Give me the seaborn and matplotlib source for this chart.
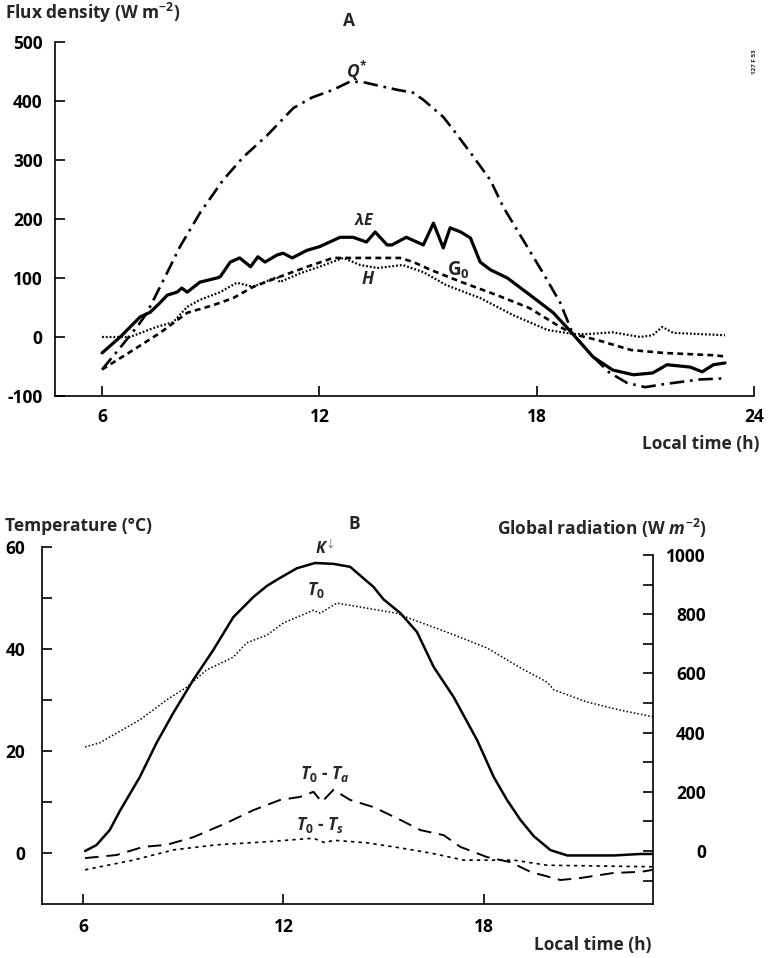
import matplotlib
matplotlib.use("Agg")
import matplotlib.pyplot as plt
import seaborn as sns

# ---------------- Panel A data (flux densities, W m-2) ----------------
t_Q = [6.0, 6.5, 7.0, 7.24, 7.7, 8.15, 8.7, 9.34, 9.9, 10.56, 11.28, 11.8, 12.38, 12.85,
       13.21, 13.7, 14.15, 14.59, 14.87, 15.42, 15.7, 16.2, 16.72, 17.08, 17.63, 18.18,
       18.65, 19.0, 19.5, 20.0, 20.5, 21.0, 21.5, 22.0, 22.5, 23.2]
Q_star = [-55, -18, 20, 41, 97, 153, 210, 266, 305, 342, 388, 406, 419, 433,
          432, 425, 419, 414, 402, 373, 351, 310, 266, 220, 164, 108,
          58, 5, -30, -60, -78, -85, -80, -76, -72, -70]

t_LE = [6.0, 6.5, 7.05, 7.33, 7.6, 7.8, 8.07, 8.2, 8.35, 8.7, 9.17, 9.26, 9.54, 9.8, 10.1,
        10.3, 10.5, 10.83, 11.0, 11.25, 11.66, 12.0, 12.57, 12.93, 13.3, 13.54, 13.87, 14.0,
        14.4, 14.87, 15.15, 15.42, 15.61, 15.9, 16.17, 16.44, 16.72, 17.19, 17.82, 18.46,
        19.0, 19.56, 20.1, 20.67, 21.2, 21.6, 22.24, 22.57, 22.88, 23.2]
LE = [-27, 0, 34, 42, 58, 71, 76, 83, 76, 93, 100, 102, 127, 134, 119,
      136, 127, 139, 142, 134, 147, 153, 169, 169, 161, 178, 156, 156,
      169, 156, 193, 151, 185, 178, 168, 127, 114, 100, 71, 41,
      5, -34, -56, -64, -61, -47, -51, -59, -47, -44]

t_G = [6.0, 6.86, 7.6, 8.35, 9.07, 9.62, 10.17, 10.9, 11.66, 12.38, 12.93, 13.5, 14.23,
       14.6, 15.06, 15.97, 16.9, 17.8, 18.65, 19.0, 19.67, 20.6, 21.5, 22.9, 23.2]
G0 = [-55, -22, 7, 41, 54, 66, 85, 102, 119, 134, 134, 134, 134,
      127, 114, 92, 71, 49, 17, 5, -5, -22, -27, -31, -33]

t_H = [6.0, 6.77, 7.5, 7.96, 8.35, 8.7, 9.26, 9.72, 10.17, 10.83, 10.9, 11.47, 12.0, 12.66,
       13.13, 13.6, 14.3, 14.87, 15.5, 16.44, 17.35, 18.3, 19.0, 19.4, 20.1, 20.86, 21.2,
       21.47, 21.77, 23.2]
H = [0, 0, 17, 25, 51, 63, 76, 92, 85, 102, 93, 108, 119, 134,
     122, 117, 122, 110, 88, 66, 37, 12, 5, 5, 8, 0, 3,
     17, 7, 3]

# ---------------- Panel B data ----------------
t_K = [6.06, 6.4, 6.8, 7.1, 7.7, 8.2, 8.7, 9.3, 9.9, 10.5, 11.1, 11.5, 11.8, 12.4, 12.95,
       13.5, 14.0, 14.7, 15.0, 15.5, 16.0, 16.5, 17.1, 17.8, 18.3, 18.7, 19.1, 19.5, 20.0,
       20.5, 21.9, 22.7, 23.07]
K_down = [0, 20, 71, 135, 250, 365, 466, 578, 679, 790, 858, 895, 916, 955, 973,
          970, 960, 892, 850, 804, 740, 622, 520, 375, 250, 172, 105, 50, 3,
          -15, -15, -10, -10]

t_T0 = [6.06, 6.5, 7.0, 7.7, 8.5, 9.1, 9.7, 10.5, 10.9, 11.5, 12.0, 12.9, 13.1, 13.6, 14.5,
        15.4, 15.9, 16.9, 18.1, 19.1, 19.9, 20.1, 21.1, 22.1, 23.07]
T0 = [20.8, 21.6, 23.5, 26.1, 30.0, 32.5, 35.9, 38.4, 41.2, 42.7, 45.1, 47.6, 47.0, 49.0, 48.0,
      47.0, 45.7, 43.3, 40.2, 36.3, 33.5, 32.0, 29.6, 28.0, 26.7]

t_Ta = [6.06, 7.0, 7.8, 8.5, 9.3, 10.3, 11.1, 11.9, 12.5, 12.9, 13.15, 13.5, 14.0, 14.7,
        15.5, 16.1, 16.8, 17.3, 18.1, 18.8, 19.4, 20.3, 20.9, 21.9, 22.7, 23.07]
T0_Ta = [-1.0, -0.4, 1.2, 1.6, 3.1, 5.9, 8.4, 10.4, 11.0, 12.0, 10.0, 12.4, 10.4, 9.0,
         6.5, 4.5, 3.5, 1.2, -0.8, -1.8, -3.7, -5.3, -4.9, -3.9, -3.7, -3.3]

t_Ts = [6.06, 7.5, 8.7, 10.0, 11.5, 12.9, 13.25, 13.5, 14.5, 15.5, 16.4, 17.4, 18.9, 19.9, 23.07]
T0_Ts = [-3.3, -1.4, 0.6, 1.6, 2.2, 2.9, 2.0, 2.5, 2.0, 1.0, 0.0, -1.4, -1.4, -2.4, -2.7]

xticks_A = [6, 12, 18, 24]
yticks_A = [-100, 0, 100, 200, 300, 400, 500]
xticks_B = [6, 12, 18]
yticks_B = [0, 20, 40, 60]
yticks_B_minor = [10, 30, 50]
yticks_R = [0, 200, 400, 600, 800, 1000]
yticks_R_minor = [-100, 100, 300, 500, 700, 900]

# ---------------- style ----------------
sns.set_theme(style="ticks")
FONT = ["Open Sans", "DejaVu Sans"]
plt.rcParams["font.family"] = FONT
plt.rcParams["font.weight"] = "bold"
plt.rcParams["mathtext.fontset"] = "custom"
plt.rcParams["mathtext.it"] = "Open Sans:italic:bold"
plt.rcParams["mathtext.rm"] = "Open Sans:bold"
plt.rcParams["mathtext.bf"] = "Open Sans:bold"

W, Hpx = 769, 958
fig = plt.figure(figsize=(W / 100, Hpx / 100), dpi=100)
fig.patch.set_facecolor("white")


def fx(px):
    return px / W


def fy(py):
    return 1 - py / Hpx


def rect(l, t, r, b):
    return [fx(l), fy(b), fx(r) - fx(l), fy(t) - fy(b)]


FS = 12.5
LW_AX = 1.2
k = "black"

# ---------------- Panel A ----------------
axA = fig.add_axes(rect(55, 42, 754, 396))
sns.lineplot(x=t_Q, y=Q_star, ax=axA, color=k, lw=1.9, sort=False,
             linestyle=(0, (5.5, 2.2, 1, 2.2)))
sns.lineplot(x=t_LE, y=LE, ax=axA, color=k, lw=2.3, sort=False, linestyle="-")
sns.lineplot(x=t_G, y=G0, ax=axA, color=k, lw=1.9, sort=False, linestyle=(0, (2.2, 1.6)))
sns.lineplot(x=t_H, y=H, ax=axA, color=k, lw=1.6, sort=False, linestyle=(0, (0.8, 0.9)))

axA.set_xlim(4.70, 24.0)
axA.set_ylim(-100, 500)
axA.set_xticks(xticks_A)
axA.set_yticks(yticks_A)
axA.set_xticklabels([str(v) for v in xticks_A])
axA.set_yticklabels([str(v) for v in yticks_A])
for s in ["top", "right"]:
    axA.spines[s].set_visible(False)
for s in ["left", "bottom"]:
    axA.spines[s].set_linewidth(LW_AX)
    axA.spines[s].set_color(k)
axA.tick_params(axis="both", direction="in", length=7, width=LW_AX, colors=k, labelsize=FS)
axA.tick_params(axis="y", pad=9)
axA.tick_params(axis="x", pad=9)
axA.set_xlabel("")
axA.set_ylabel("")
axA.grid(False)

# ---------------- Panel B ----------------
axB = fig.add_axes(rect(42, 547, 653, 904))
axR = axB.twinx()
sns.lineplot(x=t_K, y=K_down, ax=axR, color=k, lw=1.8, sort=False, linestyle="-")
sns.lineplot(x=t_T0, y=T0, ax=axB, color=k, lw=1.1, sort=False, linestyle=(0, (1, 1.4)))
sns.lineplot(x=t_Ta, y=T0_Ta, ax=axB, color=k, lw=1.4, sort=False, linestyle=(0, (7, 4)))
sns.lineplot(x=t_Ts, y=T0_Ts, ax=axB, color=k, lw=1.2, sort=False, linestyle=(0, (2, 2.5)))

axB.set_xlim(4.77, 23.07)
axB.set_ylim(-10, 60)
axR.set_ylim(-179, 1027)
axB.set_xticks(xticks_B)
axB.set_xticklabels([str(v) for v in xticks_B])
axB.set_yticks(yticks_B)
axB.set_yticklabels([str(v) for v in yticks_B])
axB.set_yticks(yticks_B_minor, minor=True)
axR.set_yticks(yticks_R)
axR.set_yticklabels([str(v) for v in yticks_R])
axR.set_yticks(yticks_R_minor, minor=True)
for a in (axB, axR):
    a.spines["top"].set_visible(False)
    a.set_xlabel("")
    a.set_ylabel("")
    a.grid(False)
    for s in ["left", "bottom", "right"]:
        a.spines[s].set_linewidth(LW_AX)
        a.spines[s].set_color(k)
axB.spines["right"].set_visible(False)
axR.spines["left"].set_visible(False)
axR.spines["bottom"].set_visible(False)
axR.spines["right"].set_bounds(-179, 1000)
axB.tick_params(axis="both", which="both", direction="in", length=7, width=LW_AX,
                colors=k, labelsize=FS)
axB.tick_params(axis="y", pad=12)
axB.tick_params(axis="x", pad=10)
axR.tick_params(axis="y", which="both", direction="in", length=7, width=LW_AX,
                colors=k, labelsize=FS, pad=38)
for lab in axR.get_yticklabels():
    lab.set_horizontalalignment("right")

# ---------------- texts ----------------
fig.text(fx(5), fy(13), r"Flux density (W m$^{\mathregular{-2}}$)", fontsize=FS,
         ha="left", va="center")
fig.text(fx(349), fy(21), "A", fontsize=FS, ha="center", va="center")
fig.text(fx(755), fy(62), "127 F 53", fontsize=4.5, rotation=90, ha="center", va="center")
fig.text(fx(759), fy(444), "Local time (h)", fontsize=FS, ha="right", va="center")

fig.text(fx(357), fy(71), r"$Q^{*}$", fontsize=FS, ha="center", va="center")
fig.text(fx(365), fy(221), r"$\lambda E$", fontsize=FS - 1, ha="center", va="center")
fig.text(fx(458), fy(270), r"G$_{\mathregular{0}}$", fontsize=FS + 1, ha="center", va="center")
fig.text(fx(368), fy(279), r"$H$", fontsize=FS, ha="center", va="center")

fig.text(fx(5), fy(526), "Temperature (°C)", fontsize=FS, ha="left", va="center")
fig.text(fx(354), fy(524), "B", fontsize=FS, ha="center", va="center")
fig.text(fx(707), fy(528), r"Global radiation (W $m^{\mathregular{-2}}$)", fontsize=FS,
         ha="right", va="center")
fig.text(fx(652), fy(945), "Local time (h)", fontsize=FS, ha="right", va="center")

fig.text(fx(325), fy(549), r"$K^{\downarrow}$", fontsize=FS - 1, ha="center", va="center")
fig.text(fx(316), fy(590), r"$T_{0}$", fontsize=FS, ha="center", va="center")
fig.text(fx(325), fy(774), r"$T_0$ - $T_a$", fontsize=FS, ha="center", va="center")
fig.text(fx(320), fy(825), r"$T_0$ - $T_s$", fontsize=FS, ha="center", va="center")

fig.savefig("out.png", dpi=100, facecolor="white")
